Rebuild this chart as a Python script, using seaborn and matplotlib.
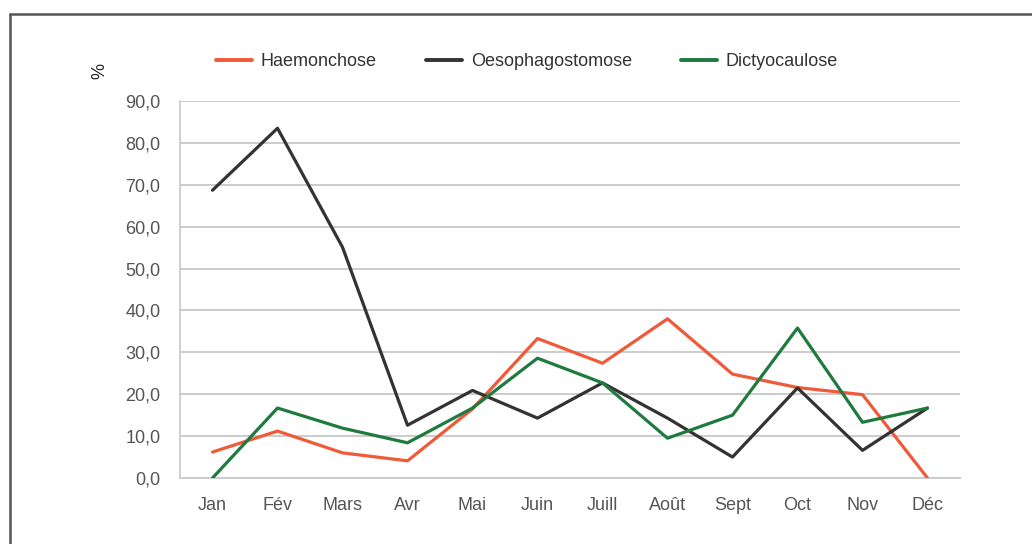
import pandas as pd
import matplotlib.pyplot as plt
import seaborn as sns
from matplotlib.lines import Line2D

months = ["Jan", "Fév", "Mars", "Avr", "Mai", "Juin", "Juill", "Août", "Sept", "Oct", "Nov", "Déc"]
haemonchose = [6.2, 11.2, 6.0, 4.1, 16.5, 33.3, 27.4, 38.0, 24.8, 21.6, 19.9, 0.0]
oesophagostomose = [68.7, 83.5, 55.1, 12.6, 20.9, 14.3, 22.7, 14.3, 5.0, 21.5, 6.6, 16.7]
dictyocaulose = [0.0, 16.7, 11.9, 8.4, 16.7, 28.6, 22.7, 9.5, 15.0, 35.8, 13.3, 16.7]
y_ticks = [0, 10, 20, 30, 40, 50, 60, 70, 80, 90]

RED = "#EF5A38"
BLACK = "#333333"
GREEN = "#1F7A3E"
GRID = "#CCCCCC"
TEXT = "#555555"

df = pd.DataFrame({
    "mois": list(range(len(months))) * 3,
    "valeur": haemonchose + oesophagostomose + dictyocaulose,
    "maladie": ["Haemonchose"] * 12 + ["Oesophagostomose"] * 12 + ["Dictyocaulose"] * 12,
})

sns.set_style("white")
plt.rcParams["font.family"] = ["Liberation Sans", "DejaVu Sans"]
plt.rcParams["font.size"] = 13

fig = plt.figure(figsize=(10.32, 5.44), dpi=100)
ax = fig.add_axes([180 / 1032, 1 - 478 / 544, 780 / 1032, 377 / 544])

sns.lineplot(
    data=df,
    x="mois",
    y="valeur",
    hue="maladie",
    palette={"Haemonchose": RED, "Oesophagostomose": BLACK, "Dictyocaulose": GREEN},
    linewidth=2.3,
    ax=ax,
    legend=False,
    zorder=3,
)

ax.set_xlim(-0.5, len(months) - 0.5)
ax.set_ylim(0, 90)
ax.set_yticks(y_ticks)
ax.set_yticklabels([f"{v:.1f}".replace(".", ",") for v in y_ticks], color=TEXT)
ax.set_xticks(range(len(months)))
ax.set_xticklabels(months, color=TEXT)
ax.set_xticks([i - 0.5 for i in range(len(months) + 1)], minor=True)
ax.tick_params(axis="x", which="major", length=0, pad=14)
ax.tick_params(axis="x", which="minor", length=6, color=GRID, width=1.3, direction="out")
ax.tick_params(axis="y", length=8, color=GRID, width=1.3, pad=6)
ax.set_xlabel("")
ax.set_ylabel("")

ax.grid(axis="y", color=GRID, linewidth=1.4)
ax.set_axisbelow(True)
for side in ["top", "right"]:
    ax.spines[side].set_visible(False)
ax.spines["left"].set_color(GRID)
ax.spines["left"].set_linewidth(1.3)
ax.spines["bottom"].set_color(GRID)
ax.spines["bottom"].set_linewidth(1.4)

fig.text(100 / 1032, 1 - 71 / 544, "%", rotation=90, ha="center", va="center",
         fontsize=13, color="#222222")

handles = [
    Line2D([], [], color=RED, linewidth=2.8),
    Line2D([], [], color=BLACK, linewidth=2.8),
    Line2D([], [], color=GREEN, linewidth=2.8),
]
fig.legend(
    handles,
    ["Haemonchose", "Oesophagostomose", "Dictyocaulose"],
    loc="center",
    bbox_to_anchor=(527 / 1032, 1 - 62 / 544),
    ncol=3,
    frameon=False,
    handlelength=2.0,
    handletextpad=0.5,
    columnspacing=2.7,
    labelcolor="#333333",
    fontsize=13,
)

# cadre autour du graphique
fig.add_artist(Line2D([10 / 1032, 1], [1 - 14 / 544, 1 - 14 / 544], color="#555555", linewidth=1.8))
fig.add_artist(Line2D([10 / 1032, 10 / 1032], [0, 1 - 14 / 544], color="#555555", linewidth=1.8))

fig.savefig("out.png", dpi=100)
plt.close()
